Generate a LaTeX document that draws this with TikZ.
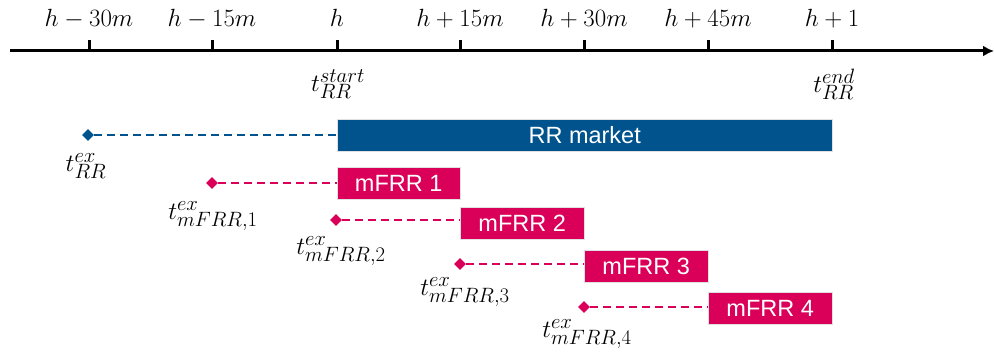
\documentclass[tikz,border=0pt]{standalone}
\usepackage{fontspec}
\setsansfont{Liberation Sans}
\usetikzlibrary{arrows.meta,shapes.geometric}
\DeclareMathSizes{24}{24}{19.5}{15}
\definecolor{rrblue}{RGB}{0,83,140}
\definecolor{mfrrred}{RGB}{218,0,89}
\begin{document}
\begin{tikzpicture}[x=1pt,y=-1pt,
  mkt/.style={fill=#1, draw=black!12, line width=0.4pt, text=white,
    font=\sffamily\fontsize{23.5}{27}\selectfont, minimum height=32pt,
    inner sep=0pt, anchor=west},
  dia/.style={diamond, fill=#1, inner sep=0pt, minimum size=12pt},
  exline/.style={draw=#1, dash pattern=on 8pt off 5pt, line width=2pt},
  tlab/.style={font=\fontsize{24}{28}\selectfont, inner sep=0pt},
  tick/.style={line width=3pt},
]
\useasboundingbox (0,0) rectangle (994,353);
% axis
\coordinate (a0) at (10,51);
\coordinate (a1) at (994,51);
\draw[line width=3pt, -{Latex[length=11pt,width=11pt]}] (a0) -- (a1);
% ticks and labels
\foreach \n/\x/\lab in {1/89/h-30m, 2/212/h-15m, 3/337/h, 4/460/h+15m, 5/584/h+30m, 6/708/h+45m, 7/832/h+1}{
  \coordinate (t\n) at (\x,51);
  \coordinate (tt\n) at (\x,40);
  \draw[tick] (t\n) -- (tt\n);
  \node[tlab, anchor=base] (l\n) at (\x,27) {$\lab$};
}
\node[tlab] (tstart) at (338,84) {$t_{RR}^{start}$};
\node[tlab] (tend) at (834,84) {$t_{RR}^{end}$};
% RR market
\node[mkt=rrblue, minimum width=495pt] (rr) at (337,135) {RR market};
\node[dia=rrblue] (drr) at (88,135) {};
\draw[exline=rrblue] (drr) -- (rr.west);
\node[tlab] (lrr) at (86,166) {$t_{RR}^{ex}$};
% mFRR
\node[mkt=mfrrred, minimum width=123pt] (m1) at (337,183) {mFRR 1};
\node[mkt=mfrrred, minimum width=124pt] (m2) at (460,223) {mFRR 2};
\node[mkt=mfrrred, minimum width=124pt] (m3) at (584,266) {mFRR 3};
\node[mkt=mfrrred, minimum width=124pt] (m4) at (708,308) {mFRR 4};
\node[dia=mfrrred] (d1) at (212,183) {};
\node[dia=mfrrred] (d2) at (336,220) {};
\node[dia=mfrrred] (d3) at (460,264) {};
\node[dia=mfrrred] (d4) at (584,307) {};
\draw[exline=mfrrred] (d1) -- (d1 -| m1.west);
\draw[exline=mfrrred] (d2) -- (d2 -| m2.west);
\draw[exline=mfrrred] (d3) -- (d3 -| m3.west);
\draw[exline=mfrrred] (d4) -- (d4 -| m4.west);
\node[tlab] (lm1) at (213,216) {$t_{mFRR,1}^{ex}$};
\node[tlab] (lm2) at (341,251) {$t_{mFRR,2}^{ex}$};
\node[tlab] (lm3) at (465,292) {$t_{mFRR,3}^{ex}$};
\node[tlab] (lm4) at (587,334) {$t_{mFRR,4}^{ex}$};
\end{tikzpicture}
\end{document}
